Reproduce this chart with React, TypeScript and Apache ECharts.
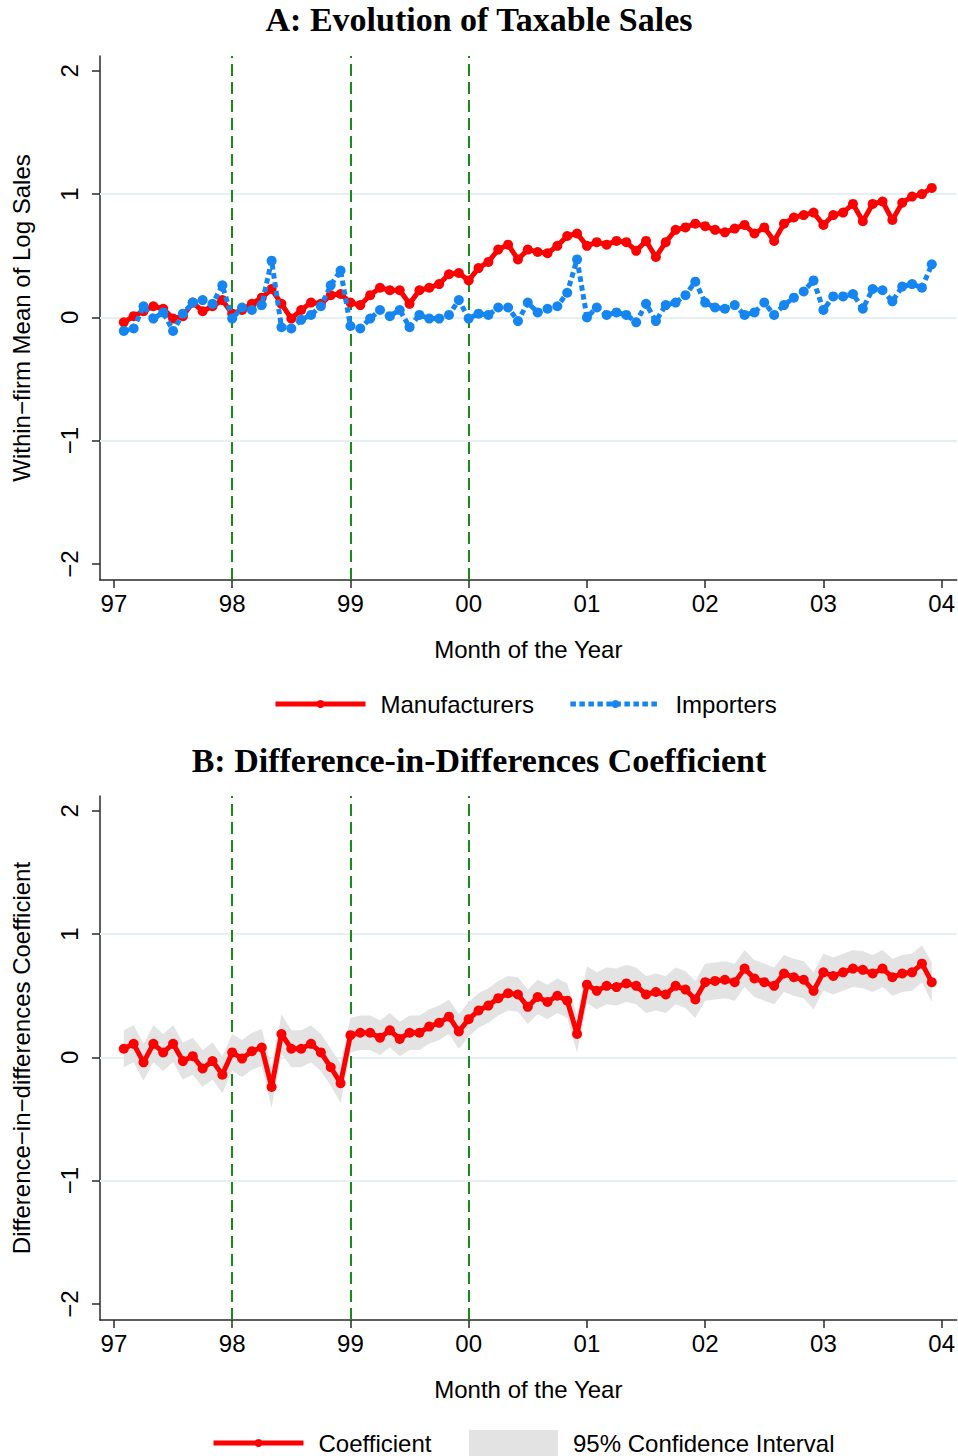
import React, { useEffect, useRef } from 'react';
import * as echarts from 'echarts';

// Monthly observations, Jan 1997 (97 + 1/12) to Nov 2003
const START_YEAR = 97;
const manufacturers = [
  -0.04, 0.01, 0.05, 0.09, 0.07, -0.01, 0.01, 0.12, 0.05, 0.09, 0.14, 0.03,
  0.06, 0.11, 0.16, 0.23, 0.11, -0.01, 0.06, 0.12, 0.11, 0.18, 0.19, 0.12,
  0.10, 0.18, 0.24, 0.22, 0.22, 0.11, 0.22, 0.24, 0.27, 0.35, 0.36, 0.30,
  0.40, 0.45, 0.55, 0.59, 0.47, 0.55, 0.53, 0.52, 0.58, 0.66, 0.68, 0.58,
  0.61, 0.59, 0.62, 0.61, 0.54, 0.62, 0.49, 0.61, 0.71, 0.73, 0.76, 0.74,
  0.71, 0.69, 0.72, 0.75, 0.68, 0.73, 0.62, 0.76, 0.81, 0.83, 0.85, 0.75,
  0.83, 0.85, 0.92, 0.78, 0.92, 0.94, 0.79, 0.93, 0.98, 1.00, 1.05,
];
const importers = [
  -0.11, -0.09, 0.09, -0.01, 0.04, -0.11, 0.03, 0.12, 0.14, 0.11, 0.26, -0.01,
  0.08, 0.06, 0.10, 0.46, -0.08, -0.09, -0.02, 0.02, 0.09, 0.26, 0.38, -0.07,
  -0.09, -0.01, 0.06, 0.01, 0.06, -0.08, 0.02, -0.01, -0.01, 0.02, 0.14, -0.01,
  0.03, 0.02, 0.08, 0.08, -0.03, 0.12, 0.04, 0.07, 0.09, 0.20, 0.47, 0.00,
  0.08, 0.02, 0.04, 0.02, -0.04, 0.11, -0.03, 0.10, 0.12, 0.18, 0.29, 0.12,
  0.08, 0.07, 0.10, 0.02, 0.04, 0.12, 0.02, 0.10, 0.16, 0.21, 0.30, 0.06,
  0.17, 0.17, 0.19, 0.07, 0.23, 0.22, 0.13, 0.25, 0.27, 0.24, 0.43,
];
const coefficient = [
  0.07, 0.11, -0.04, 0.11, 0.04, 0.11, -0.03, 0.01, -0.09, -0.03, -0.14, 0.04,
  -0.01, 0.05, 0.08, -0.24, 0.19, 0.07, 0.07, 0.11, 0.04, -0.08, -0.21, 0.18,
  0.20, 0.20, 0.16, 0.22, 0.15, 0.20, 0.20, 0.25, 0.28, 0.33, 0.21, 0.31,
  0.38, 0.42, 0.48, 0.52, 0.51, 0.41, 0.49, 0.45, 0.50, 0.46, 0.19, 0.59,
  0.54, 0.58, 0.57, 0.60, 0.58, 0.51, 0.53, 0.51, 0.58, 0.55, 0.47, 0.61,
  0.62, 0.63, 0.61, 0.72, 0.64, 0.61, 0.58, 0.68, 0.65, 0.63, 0.54, 0.69,
  0.66, 0.69, 0.72, 0.71, 0.68, 0.72, 0.65, 0.68, 0.69, 0.76, 0.61,
];
const ciUpper = [
  0.22, 0.26, 0.11, 0.26, 0.19, 0.26, 0.12, 0.16, 0.06, 0.12, 0.01, 0.19,
  0.14, 0.20, 0.23, -0.08, 0.35, 0.22, 0.22, 0.26, 0.19, 0.07, -0.05, 0.32,
  0.34, 0.34, 0.30, 0.36, 0.29, 0.34, 0.34, 0.39, 0.42, 0.47, 0.35, 0.45,
  0.52, 0.56, 0.62, 0.66, 0.65, 0.55, 0.63, 0.59, 0.64, 0.60, 0.34, 0.74,
  0.69, 0.73, 0.72, 0.75, 0.73, 0.66, 0.68, 0.66, 0.73, 0.70, 0.62, 0.76,
  0.77, 0.78, 0.76, 0.87, 0.79, 0.76, 0.73, 0.83, 0.80, 0.78, 0.69, 0.84,
  0.81, 0.84, 0.87, 0.86, 0.83, 0.87, 0.80, 0.83, 0.84, 0.91, 0.77,
];
const ciLower = [
  -0.08, -0.04, -0.19, -0.04, -0.11, -0.04, -0.18, -0.14, -0.24, -0.18, -0.29, -0.11,
  -0.16, -0.10, -0.07, -0.41, 0.03, -0.08, -0.08, -0.04, -0.11, -0.23, -0.37, 0.04,
  0.06, 0.06, 0.02, 0.08, 0.01, 0.06, 0.06, 0.11, 0.14, 0.19, 0.07, 0.17,
  0.24, 0.28, 0.34, 0.38, 0.37, 0.27, 0.35, 0.31, 0.36, 0.32, 0.04, 0.44,
  0.39, 0.43, 0.42, 0.45, 0.43, 0.36, 0.38, 0.36, 0.43, 0.40, 0.32, 0.46,
  0.47, 0.48, 0.46, 0.57, 0.49, 0.46, 0.43, 0.53, 0.50, 0.48, 0.39, 0.54,
  0.51, 0.54, 0.57, 0.56, 0.53, 0.57, 0.50, 0.53, 0.54, 0.61, 0.45,
];

const xTickValues = [97, 98, 99, 100, 101, 102, 103, 104];
const xTickLabels = ['97', '98', '99', '00', '01', '02', '03', '04'];
const yTickValues = [-2, -1, 0, 1, 2];
const yGridValues = [-1, 0, 1];
const policyLines = [98, 99, 100];

const X_MIN = 96.882;
const X_MAX = 104.127;
const Y_MIN = -2.13;
const Y_MAX = 2.12;

const SANS = '"Liberation Sans", Arial, sans-serif';
const SERIF = '"Liberation Serif", "Times New Roman", serif';
const RED = '#ff0000';
const BLUE = '#1585f2';
const GREEN = '#1a8a1a';
const GRID_COLOR = '#e6eff1';
const BAND = '#e3e3e3';
const AXIS_COLOR = '#2a2a2a';
const FONT_SIZE = 24;

export default function App() {
  const ref = useRef<HTMLDivElement>(null);

  useEffect(() => {
    if (!ref.current) return;
    const chart = echarts.init(ref.current, null, { renderer: 'svg' });

    const months = manufacturers.map((_, i) => START_YEAR + (i + 1) / 12);
    const pairs = (arr: number[]) => arr.map((v, i) => [months[i], v]);
    const bandData = months.map((m, i) => [m, ciLower[i], ciUpper[i]]);

    const fmtY = (v: number) => (v < 0 ? '\u2212' + Math.abs(v) : String(v));
    const fmtX = (v: number) => {
      const i = xTickValues.indexOf(Math.round(v));
      return i >= 0 ? xTickLabels[i] : '';
    };

    const makeX = (gridIndex: number) => ({
      type: 'value',
      gridIndex,
      min: X_MIN,
      max: X_MAX,
      name: 'Month of the Year',
      nameLocation: 'middle',
      nameGap: 57,
      nameTextStyle: { fontFamily: SANS, fontSize: FONT_SIZE, color: '#000' },
      axisLine: { show: true, onZero: false, lineStyle: { color: AXIS_COLOR, width: 1.5 } },
      axisTick: { show: true, customValues: xTickValues, length: 8, lineStyle: { color: AXIS_COLOR, width: 1.5 } },
      axisLabel: { customValues: xTickValues, formatter: fmtX, margin: 11, fontFamily: SANS, fontSize: FONT_SIZE, color: '#000' },
      splitLine: { show: false },
    });

    const makeY = (gridIndex: number, name: string) => ({
      type: 'value',
      gridIndex,
      min: Y_MIN,
      max: Y_MAX,
      name,
      nameLocation: 'middle',
      nameGap: 67,
      nameTextStyle: { fontFamily: SANS, fontSize: FONT_SIZE, color: '#000' },
      axisLine: { show: true, onZero: false, lineStyle: { color: AXIS_COLOR, width: 1.5 } },
      axisTick: { show: true, customValues: yTickValues, length: 8, lineStyle: { color: AXIS_COLOR, width: 1.5 } },
      axisLabel: { customValues: yTickValues, formatter: fmtY, rotate: 90, margin: 19, fontFamily: SANS, fontSize: FONT_SIZE, color: '#000' },
      splitLine: { show: false },
    });

    const refLines = {
      silent: true,
      symbol: ['none', 'none'],
      label: { show: false },
      z: 1,
      data: [
        ...yGridValues.map((v) => ({ yAxis: v, lineStyle: { color: GRID_COLOR, width: 2, type: 'solid' } })),
        ...policyLines.map((v) => ({ xAxis: v, lineStyle: { color: GREEN, width: 2, type: [12, 6] } })),
      ],
    };

    const textStyle = { fontFamily: SANS, fontSize: FONT_SIZE, lineHeight: 24, color: '#000', padding: [0, 0, 0, 10] };

    chart.setOption({
      animation: false,
      backgroundColor: '#ffffff',
      title: [
        { text: 'A: Evolution of Taxable Sales', left: 'center', top: 2, padding: 0, textStyle: { fontFamily: SERIF, fontWeight: 'bold', fontSize: 34, color: '#000' } },
        { text: 'B: Difference-in-Differences Coefficient', left: 'center', top: 743, padding: 0, textStyle: { fontFamily: SERIF, fontWeight: 'bold', fontSize: 34, color: '#000' } },
      ],
      grid: [
        { left: 100, top: 56, width: 857, height: 524 },
        { left: 100, top: 796, width: 857, height: 524 },
      ],
      xAxis: [makeX(0), makeX(1)],
      yAxis: [makeY(0, 'Within\u2212firm Mean of Log Sales'), makeY(1, 'Difference\u2212in\u2212differences Coefficient')],
      legend: [
        {
          left: 273, top: 692, padding: 0, itemWidth: 90, itemHeight: 10, itemGap: 34, selectedMode: false, textStyle,
          data: [
            { name: 'Manufacturers', lineStyle: { width: 5, color: RED } },
            { name: 'Importers', lineStyle: { width: 5, color: BLUE, type: [5.5, 3.5] } },
          ],
        },
        {
          left: 211, top: 1431, padding: 0, itemWidth: 90, itemHeight: 10, selectedMode: false, textStyle,
          data: [{ name: 'Coefficient', lineStyle: { width: 5, color: RED } }],
        },
        {
          left: 469, top: 1430, padding: 0, itemWidth: 89, itemHeight: 26, selectedMode: false, textStyle,
          data: [{ name: '95% Confidence Interval', icon: 'rect', itemStyle: { color: BAND } }],
        },
      ],
      series: [
        {
          name: 'refA', type: 'line', xAxisIndex: 0, yAxisIndex: 0, z: 1, silent: true,
          data: pairs(manufacturers), symbol: 'none', lineStyle: { width: 0, opacity: 0 },
          markLine: refLines,
        },
        {
          name: 'Manufacturers', type: 'line', xAxisIndex: 0, yAxisIndex: 0, z: 3,
          data: pairs(manufacturers), color: RED, symbol: 'circle', symbolSize: 10, showSymbol: true,
          lineStyle: { width: 5, color: RED }, itemStyle: { color: RED },
        },
        {
          name: 'Importers', type: 'line', xAxisIndex: 0, yAxisIndex: 0, z: 4,
          data: pairs(importers), color: BLUE, symbol: 'circle', symbolSize: 10, showSymbol: true,
          lineStyle: { width: 5, color: BLUE, type: [5.5, 3.5] }, itemStyle: { color: BLUE },
        },
        {
          name: 'refB', type: 'line', xAxisIndex: 1, yAxisIndex: 1, z: 1, silent: true,
          data: pairs(coefficient), symbol: 'none', lineStyle: { width: 0, opacity: 0 },
          markLine: refLines,
        },
        {
          name: '95% Confidence Interval', type: 'custom', xAxisIndex: 1, yAxisIndex: 1, z: 2, silent: true,
          color: BAND, itemStyle: { color: BAND },
          data: bandData,
          encode: { x: 0, y: [1, 2] },
          renderItem: (params: any, api: any) => {
            if (params.dataIndex !== 0) return null;
            const up = bandData.map((d) => api.coord([d[0], d[2]]));
            const lo = bandData.map((d) => api.coord([d[0], d[1]])).reverse();
            return { type: 'polygon', shape: { points: up.concat(lo) }, style: { fill: BAND, stroke: 'none' } };
          },
        },
        {
          name: 'Coefficient', type: 'line', xAxisIndex: 1, yAxisIndex: 1, z: 3,
          data: pairs(coefficient), color: RED, symbol: 'circle', symbolSize: 10, showSymbol: true,
          lineStyle: { width: 5, color: RED }, itemStyle: { color: RED },
        },
      ],
    });

    return () => chart.dispose();
  }, []);

  return <div ref={ref} style={{ position: 'absolute', left: 0, top: 0, width: 958, height: 1456 }} />;
}
